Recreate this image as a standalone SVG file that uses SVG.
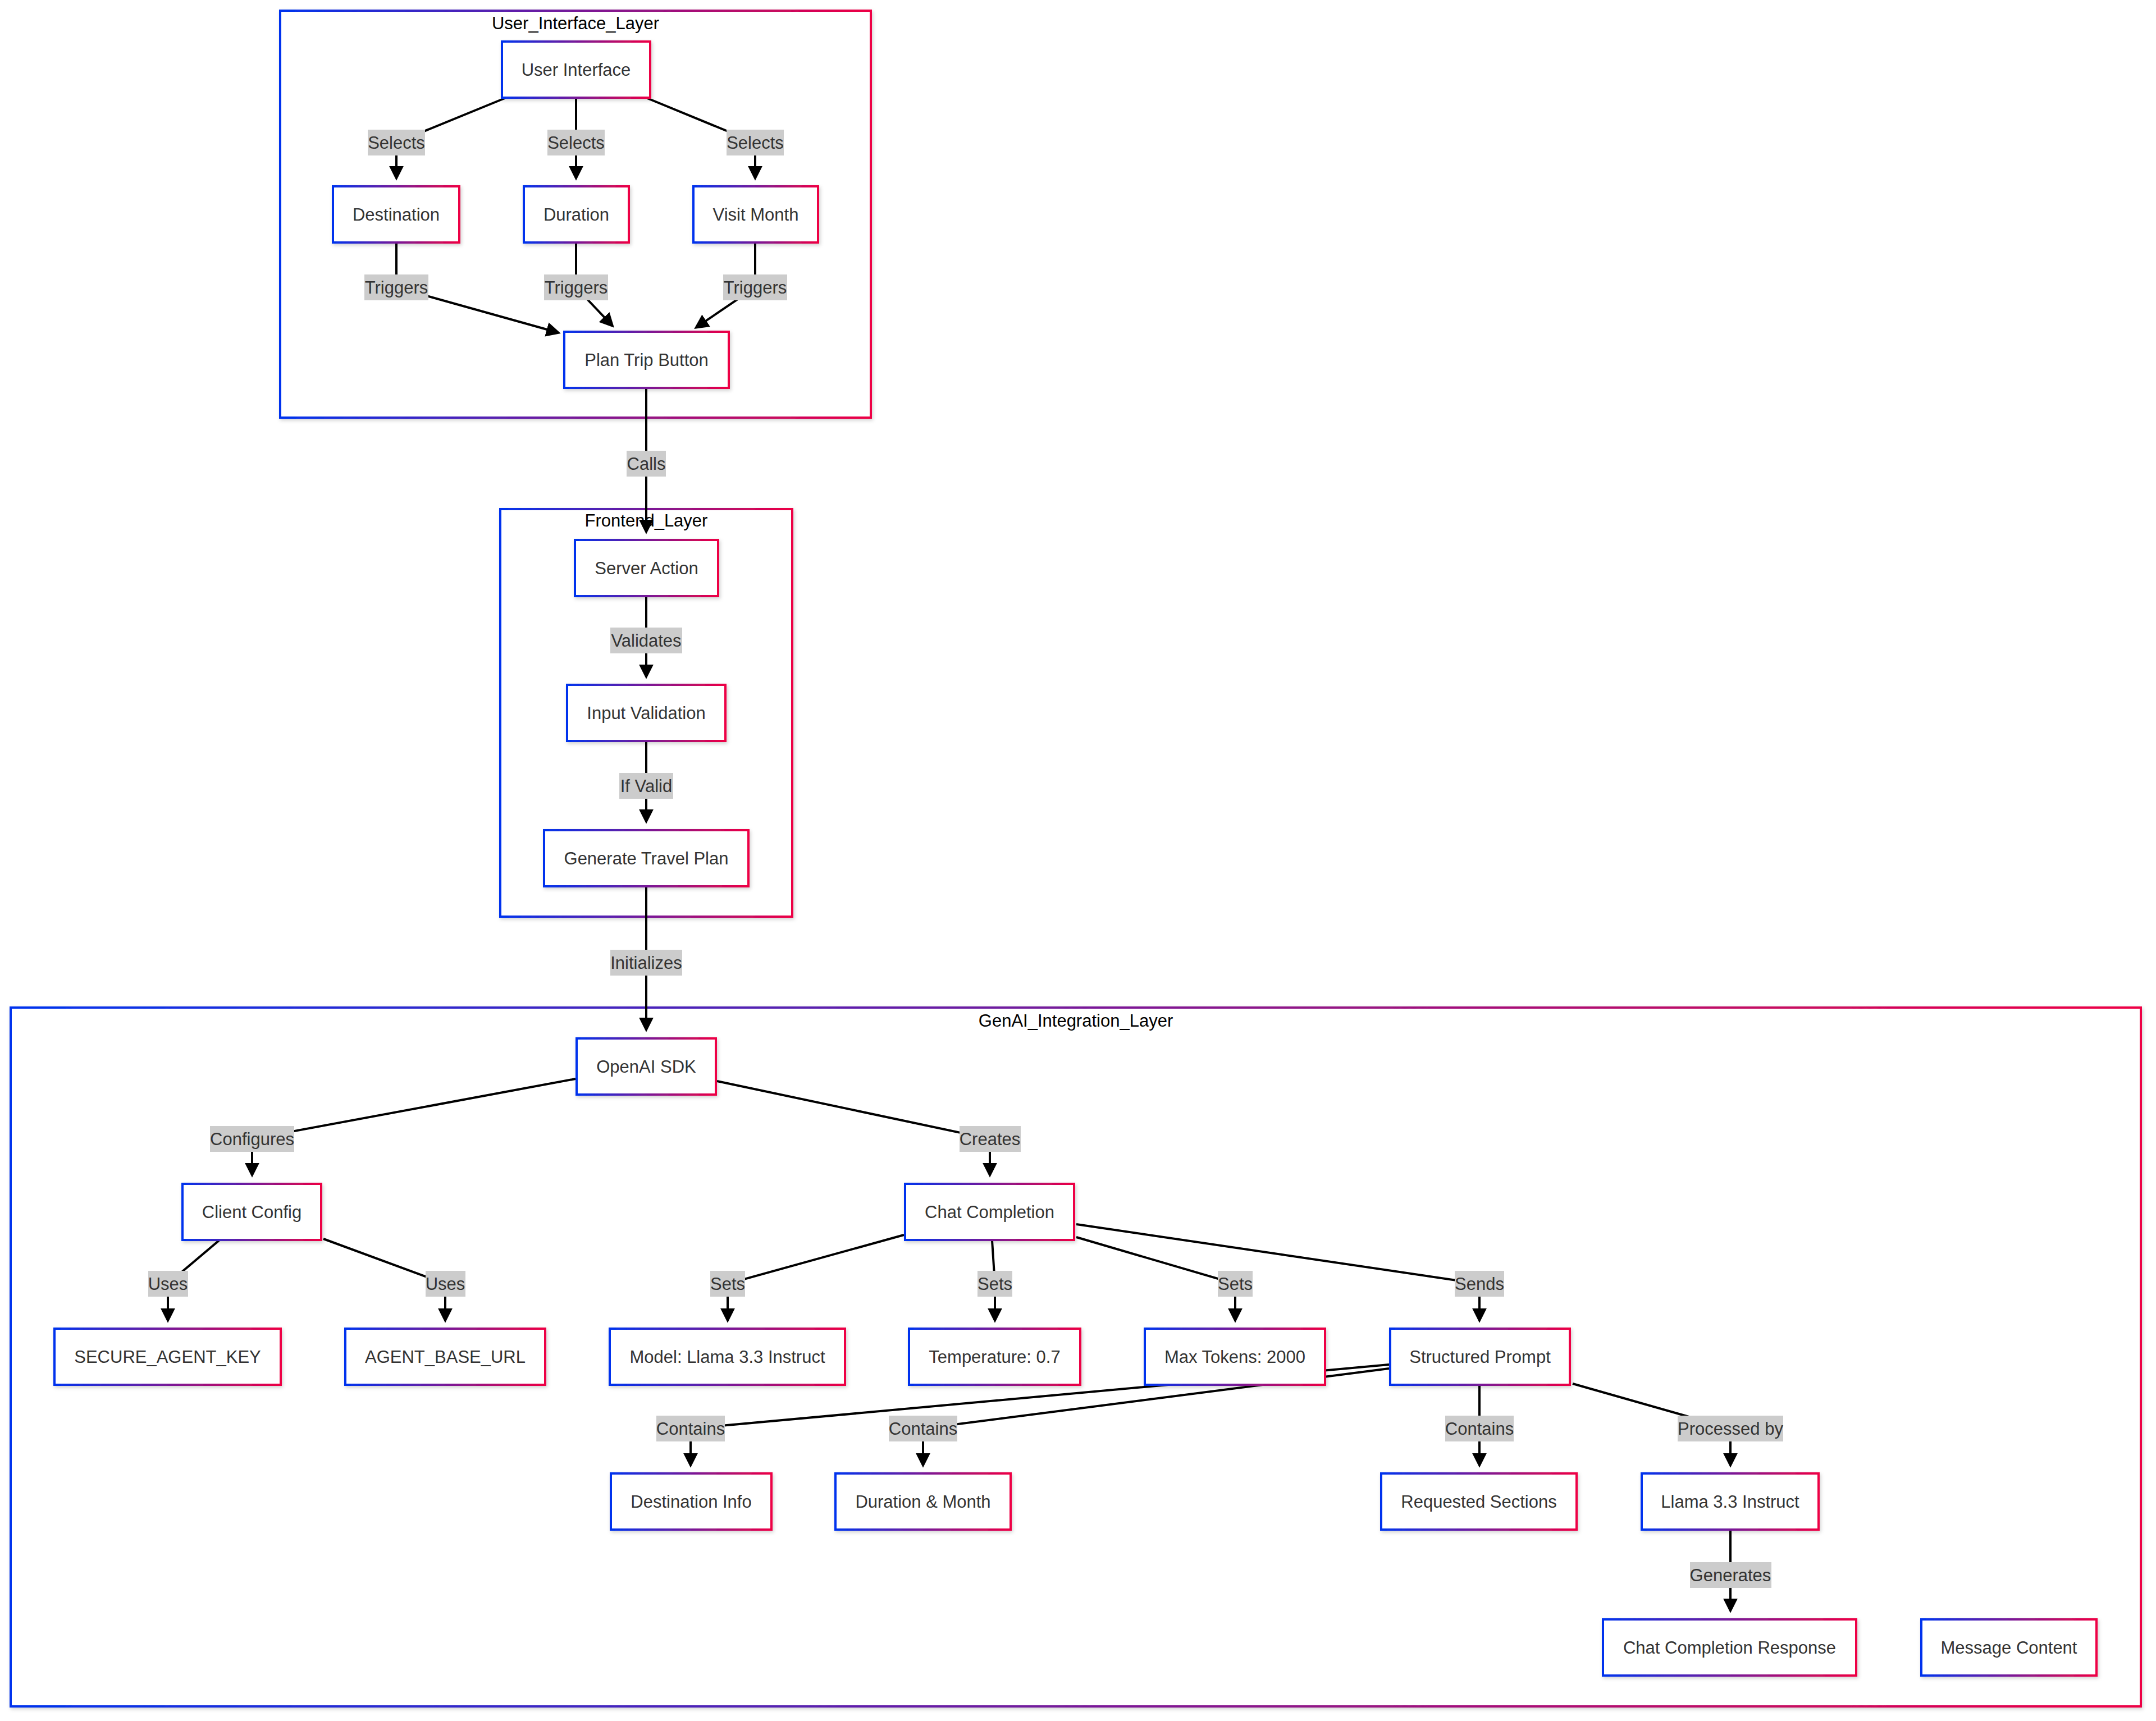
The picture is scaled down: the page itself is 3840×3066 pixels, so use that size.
<svg xmlns="http://www.w3.org/2000/svg" width="3840" height="3066" viewBox="0 0 3840 3066">
<defs>
<linearGradient id="grad" x1="0" y1="0" x2="1" y2="0">
<stop offset="0" stop-color="#0033ee"/>
<stop offset="1" stop-color="#ee0044"/>
</linearGradient>
<filter id="shadow" x="-5%" y="-5%" width="110%" height="120%">
<feDropShadow dx="2" dy="3" stdDeviation="3" flood-color="#000" flood-opacity="0.18"/>
</filter>
<marker id="arrow" viewBox="0 0 10 10" refX="2" refY="5" markerWidth="26" markerHeight="28" markerUnits="userSpaceOnUse" orient="auto">
<path d="M0,0 L10,5 L0,10 z" fill="#000"/>
</marker>
<style>
.cluster rect{fill:#fff;stroke:url(#grad);stroke-width:4;filter:url(#shadow)}
.cluster text{font-family:"Liberation Sans",Arial,sans-serif;font-size:31px;fill:#000;text-anchor:middle}
.node rect{fill:#fff;stroke:url(#grad);stroke-width:4;filter:url(#shadow)}
.node text{font-family:"Liberation Sans",Arial,sans-serif;font-size:31px;fill:#333;text-anchor:middle}
.edge{fill:none;stroke:#000;stroke-width:4;marker-end:url(#arrow)}
.lbl rect{fill:#cccccc}
.lbl text{font-family:"Liberation Sans",Arial,sans-serif;font-size:31px;fill:#333;text-anchor:middle}
</style>
</defs>
<rect width="3840" height="3066" fill="#fff"/>

<g id="clusters">
<g id="User_Interface_Layer" class="cluster"><rect x="499" y="19" width="1052" height="725"/><text x="1025" y="52">User_Interface_Layer</text></g>
<g id="Frontend_Layer" class="cluster"><rect x="891" y="907" width="520" height="726"/><text x="1151" y="938">Frontend_Layer</text></g>
<g id="GenAI_Integration_Layer" class="cluster"><rect x="19" y="1795" width="3794" height="1245"/><text x="1916" y="1829">GenAI_Integration_Layer</text></g>
</g>

<g id="connectors">
<path class="edge" d="M899 175 L706 254 L706 301"/>
<path class="edge" d="M1026 175 L1026 301"/>
<path class="edge" d="M1153 175 L1345 254 L1345 301"/>
<path class="edge" d="M706 432 L706 512 L978.8 588.3"/>
<path class="edge" d="M1026 432 L1026 512 L1079.6 568.7"/>
<path class="edge" d="M1345 432 L1345 512 L1253.4 574.2"/>
<path class="edge" d="M1151 691 L1151 931"/>
<path class="edge" d="M1151 1062 L1151 1189"/>
<path class="edge" d="M1151 1320 L1151 1447"/>
<path class="edge" d="M1151 1579 L1151 1818"/>
<path class="edge" d="M1025 1922 L449 2029 L449 2077"/>
<path class="edge" d="M1277 1926 L1763 2029 L1763 2077"/>
<path class="edge" d="M390 2210 L299 2287 L299 2336"/>
<path class="edge" d="M576 2207 L793 2287 L793 2336"/>
<path class="edge" d="M1610 2200 L1296 2287 L1296 2336"/>
<path class="edge" d="M1767 2210 L1772 2287 L1772 2336"/>
<path class="edge" d="M1917 2204 L2200 2287 L2200 2336"/>
<path class="edge" d="M1917 2181 L2635 2287 L2635 2336"/>
<path class="edge" d="M2474 2431 L1230 2545 L1230 2594"/>
<path class="edge" d="M2474 2438 L1644 2545 L1644 2594"/>
<path class="edge" d="M2635 2468 L2635 2594"/>
<path class="edge" d="M2801 2465 L3082 2545 L3082 2594"/>
<path class="edge" d="M3082 2727 L3082 2853"/>
</g>

<g id="edge-labels">
<g class="lbl"><rect x="655" y="231" width="102" height="46"/><text x="706" y="265">Selects</text></g>
<g class="lbl"><rect x="975" y="231" width="102" height="46"/><text x="1026" y="265">Selects</text></g>
<g class="lbl"><rect x="1294" y="231" width="102" height="46"/><text x="1345" y="265">Selects</text></g>
<g class="lbl"><rect x="649" y="489" width="114" height="46"/><text x="706" y="523">Triggers</text></g>
<g class="lbl"><rect x="969" y="489" width="114" height="46"/><text x="1026" y="523">Triggers</text></g>
<g class="lbl"><rect x="1288" y="489" width="114" height="46"/><text x="1345" y="523">Triggers</text></g>
<g class="lbl"><rect x="1116" y="803" width="70" height="46"/><text x="1151" y="837">Calls</text></g>
<g class="lbl"><rect x="1087" y="1118" width="128" height="46"/><text x="1151" y="1152">Validates</text></g>
<g class="lbl"><rect x="1103" y="1377" width="96" height="46"/><text x="1151" y="1411">If Valid</text></g>
<g class="lbl"><rect x="1087" y="1692" width="128" height="46"/><text x="1151" y="1726">Initializes</text></g>
<g class="lbl"><rect x="374" y="2006" width="150" height="46"/><text x="449" y="2040">Configures</text></g>
<g class="lbl"><rect x="1709" y="2006" width="109" height="46"/><text x="1763" y="2040">Creates</text></g>
<g class="lbl"><rect x="264" y="2264" width="71" height="46"/><text x="299" y="2298">Uses</text></g>
<g class="lbl"><rect x="758" y="2264" width="71" height="46"/><text x="793" y="2298">Uses</text></g>
<g class="lbl"><rect x="1265" y="2264" width="62" height="46"/><text x="1296" y="2298">Sets</text></g>
<g class="lbl"><rect x="1741" y="2264" width="62" height="46"/><text x="1772" y="2298">Sets</text></g>
<g class="lbl"><rect x="2169" y="2264" width="62" height="46"/><text x="2200" y="2298">Sets</text></g>
<g class="lbl"><rect x="2591" y="2264" width="88" height="46"/><text x="2635" y="2298">Sends</text></g>
<g class="lbl"><rect x="1169" y="2522" width="122" height="46"/><text x="1230" y="2556">Contains</text></g>
<g class="lbl"><rect x="1583" y="2522" width="122" height="46"/><text x="1644" y="2556">Contains</text></g>
<g class="lbl"><rect x="2574" y="2522" width="122" height="46"/><text x="2635" y="2556">Contains</text></g>
<g class="lbl"><rect x="2988" y="2522" width="188" height="46"/><text x="3082" y="2556">Processed by</text></g>
<g class="lbl"><rect x="3010" y="2783" width="145" height="46"/><text x="3082" y="2817">Generates</text></g>
</g>

<g id="nodes">
<g id="UI" class="node"><rect x="894" y="74" width="264" height="100"/><text x="1026" y="135">User Interface</text></g>
<g id="Destination" class="node"><rect x="593" y="332" width="225" height="100"/><text x="705.5" y="393">Destination</text></g>
<g id="Duration" class="node"><rect x="933" y="332" width="187" height="100"/><text x="1026.5" y="393">Duration</text></g>
<g id="VisitMonth" class="node"><rect x="1235" y="332" width="222" height="100"/><text x="1346" y="393">Visit Month</text></g>
<g id="PlanTrip" class="node"><rect x="1005" y="591" width="293" height="100"/><text x="1151.5" y="652">Plan Trip Button</text></g>
<g id="ServerAction" class="node"><rect x="1024" y="962" width="255" height="100"/><text x="1151.5" y="1023">Server Action</text></g>
<g id="InputValidation" class="node"><rect x="1010" y="1220" width="282" height="100"/><text x="1151" y="1281">Input Validation</text></g>
<g id="GeneratePlan" class="node"><rect x="969" y="1479" width="364" height="100"/><text x="1151" y="1540">Generate Travel Plan</text></g>
<g id="OpenAISDK" class="node"><rect x="1027" y="1850" width="248" height="100"/><text x="1151" y="1911">OpenAI SDK</text></g>
<g id="ClientConfig" class="node"><rect x="325" y="2109" width="247" height="100"/><text x="448.5" y="2170">Client Config</text></g>
<g id="SecureKey" class="node"><rect x="97" y="2367" width="403" height="100"/><text x="298.5" y="2428">SECURE_AGENT_KEY</text></g>
<g id="BaseURL" class="node"><rect x="615" y="2367" width="356" height="100"/><text x="793" y="2428">AGENT_BASE_URL</text></g>
<g id="ChatCompletion" class="node"><rect x="1612" y="2109" width="301" height="100"/><text x="1762.5" y="2170">Chat Completion</text></g>
<g id="Model" class="node"><rect x="1086" y="2367" width="419" height="100"/><text x="1295.5" y="2428">Model: Llama 3.3 Instruct</text></g>
<g id="Temperature" class="node"><rect x="1619" y="2367" width="305" height="100"/><text x="1771.5" y="2428">Temperature: 0.7</text></g>
<g id="MaxTokens" class="node"><rect x="2039" y="2367" width="321" height="100"/><text x="2199.5" y="2428">Max Tokens: 2000</text></g>
<g id="StructuredPrompt" class="node"><rect x="2476" y="2367" width="320" height="100"/><text x="2636" y="2428">Structured Prompt</text></g>
<g id="DestinationInfo" class="node"><rect x="1088" y="2625" width="286" height="100"/><text x="1231" y="2686">Destination Info</text></g>
<g id="DurationMonth" class="node"><rect x="1488" y="2625" width="312" height="100"/><text x="1644" y="2686">Duration &amp; Month</text></g>
<g id="RequestedSections" class="node"><rect x="2460" y="2625" width="348" height="100"/><text x="2634" y="2686">Requested Sections</text></g>
<g id="Llama" class="node"><rect x="2924" y="2625" width="315" height="100"/><text x="3081.5" y="2686">Llama 3.3 Instruct</text></g>
<g id="ChatCompletionResponse" class="node"><rect x="2855" y="2885" width="451" height="100"/><text x="3080.5" y="2946">Chat Completion Response</text></g>
<g id="MessageContent" class="node"><rect x="3422" y="2885" width="312" height="100"/><text x="3578" y="2946">Message Content</text></g>
</g>
</svg>
